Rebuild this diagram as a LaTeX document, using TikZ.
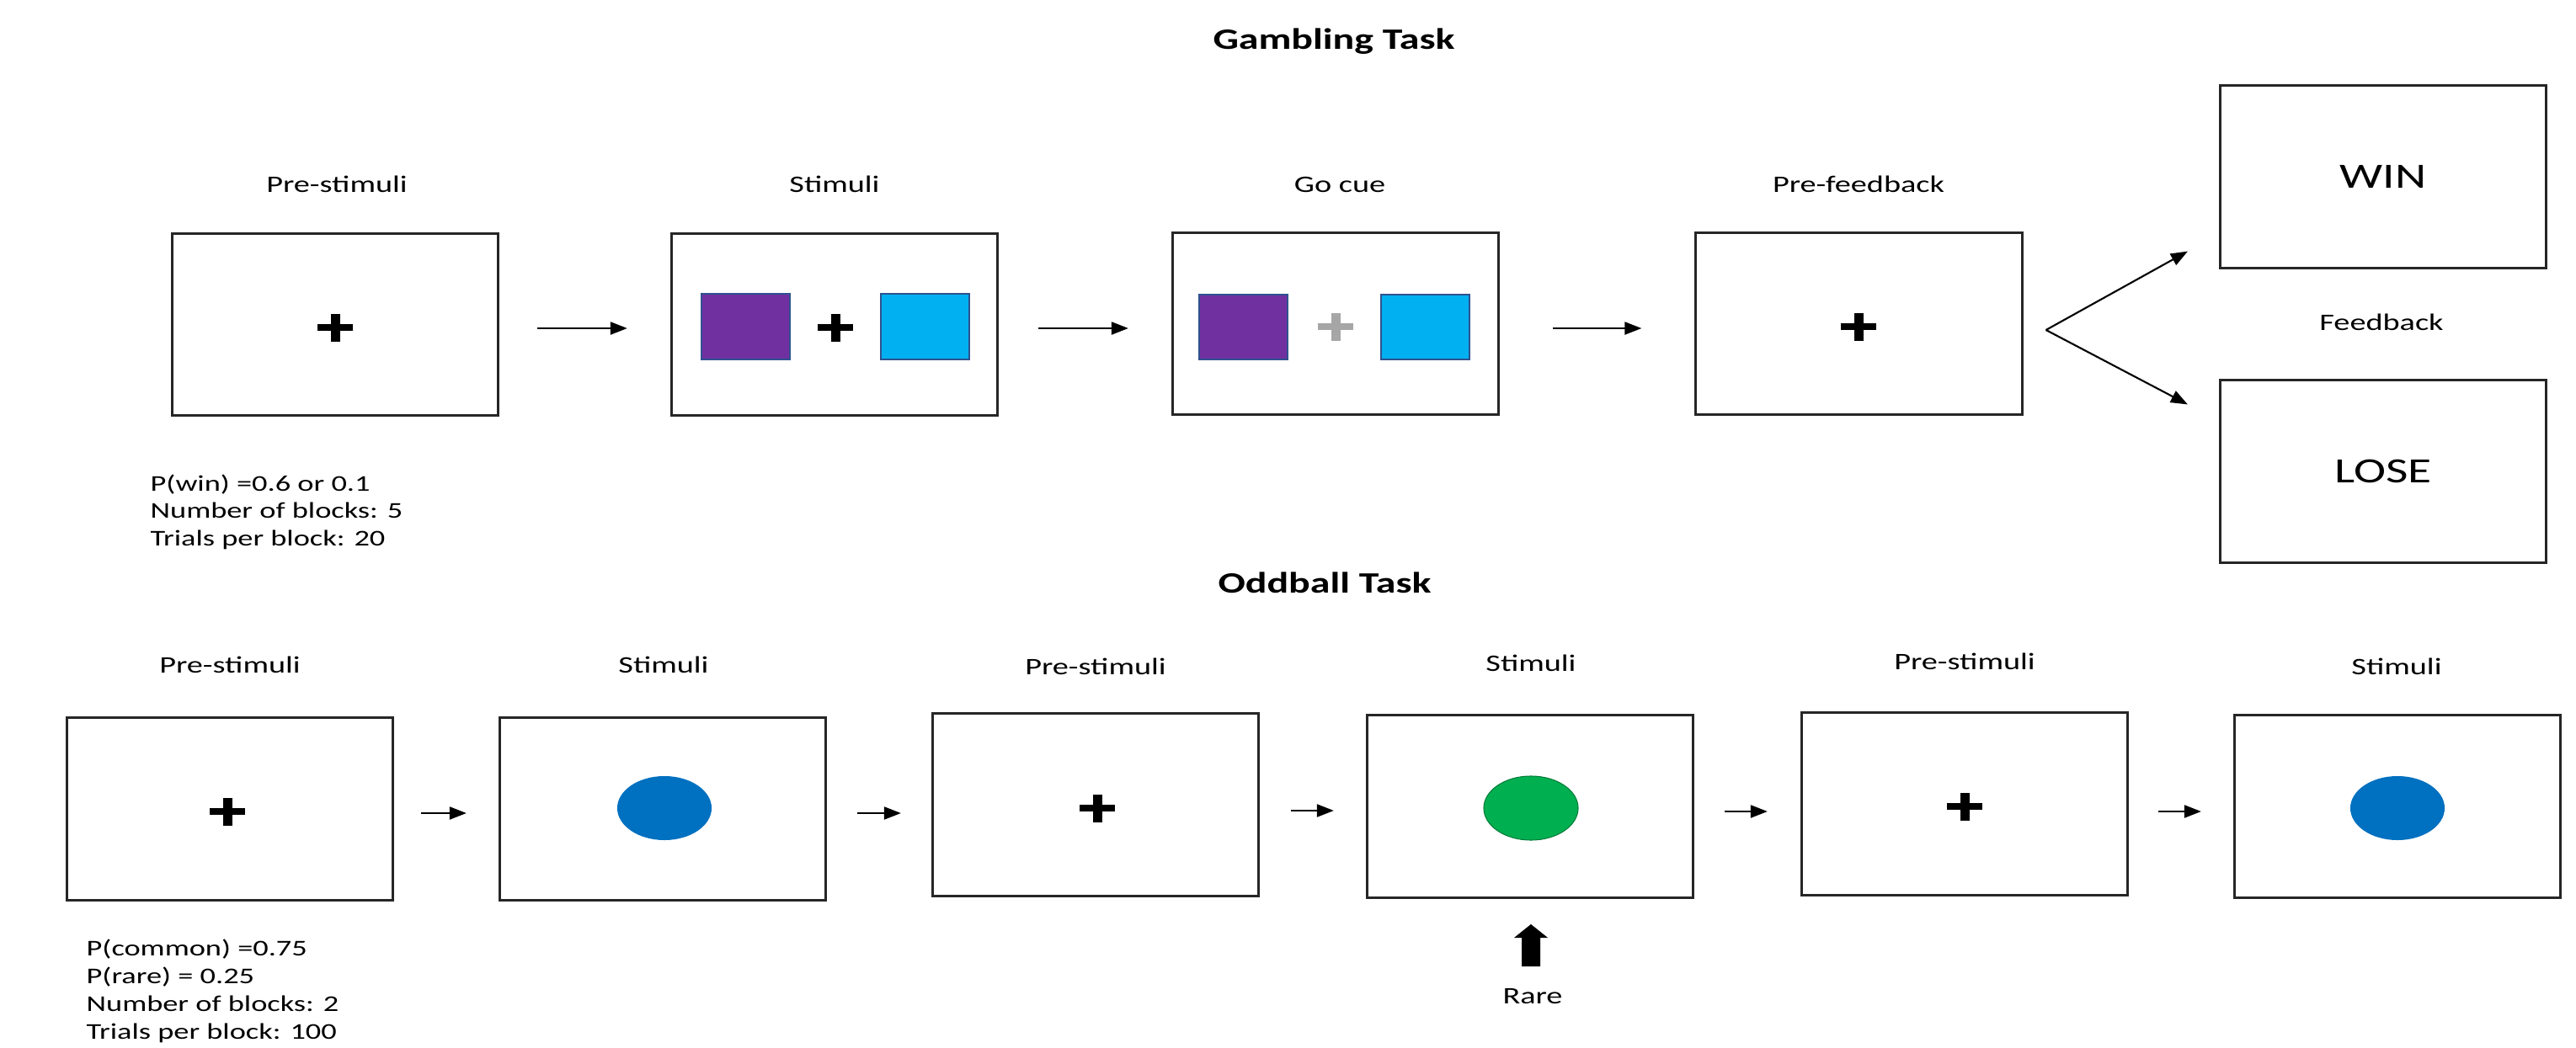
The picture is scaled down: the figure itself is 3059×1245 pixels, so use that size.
\documentclass[tikz,border=0pt]{standalone}
\usepackage{fontspec}
\setmainfont{Carlito}[FakeStretch=1.36]
\usetikzlibrary{arrows.meta}
\definecolor{purp}{HTML}{7030A0}
\definecolor{cyanb}{HTML}{00B0F0}
\definecolor{blueb}{HTML}{0070C0}
\definecolor{greenb}{HTML}{00B050}
\definecolor{edgeb}{HTML}{2F528F}
\definecolor{crossgray}{HTML}{A6A6A6}
\definecolor{framec}{HTML}{262626}
\begin{document}
\begin{tikzpicture}[x=0.01cm,y=-0.01cm,
  screen/.style={draw=framec,line width=0.85pt,minimum width=3.87cm,minimum height=2.16cm,inner sep=0pt},
  arr/.style={draw=black,line width=0.6pt,-{Triangle[length=0.2cm,width=0.15cm]}},
  lbl/.style={font=\fontsize{8}{9.6}\selectfont,inner sep=0pt,anchor=base},
  ttl/.style={font=\fontsize{10}{12}\selectfont\bfseries,inner sep=0pt,anchor=base},
  info/.style={font=\fontsize{7.6}{9.4}\selectfont,inner sep=0pt,anchor=base west},
  big/.style={font=\fontsize{12}{14}\selectfont},
  swatch/.style={draw=edgeb,line width=0.3pt},
  fixplus/.pic={
    \fill[pic actions] (-21,-4) rectangle (21,4);
    \fill[pic actions] (-5.5,-16.5) rectangle (5.5,16.5);
  }
]
\useasboundingbox (0,0) rectangle (3059,1245);

% ---------------- Gambling task ----------------
\node[ttl] (tG) at (1584,58) {Gambling Task};
\node[lbl] (lG1) at (400,228) {Pre-stimuli};
\node[lbl] (lG2) at (991,228) {Stimuli};
\node[lbl] (lG3) at (1591,228) {Go cue};
\node[lbl] (lG4) at (2207,228) {Pre-feedback};

\node[screen] (g1) at (398,385.5) {};
\node[screen] (g2) at (991,385.5) {};
\node[screen] (g3) at (1586,384.5) {};
\node[screen] (g4) at (2207.5,384.5) {};
\node[screen,big] (win) at (2830,210) {WIN};
\node[screen,big] (lose) at (2830,560) {LOSE};
\node[lbl] (fb) at (2828,392) {Feedback};

\pic at (398,389) {fixplus};
\filldraw[swatch,fill=purp] (833,349) rectangle (938,427);
\pic at (992,389) {fixplus};
\filldraw[swatch,fill=cyanb] (1046,349) rectangle (1151,427);
\filldraw[swatch,fill=purp] (1424,350) rectangle (1529,427);
\pic[fill=crossgray] at (1586,388) {fixplus};
\filldraw[swatch,fill=cyanb] (1640,350) rectangle (1745,427);
\pic at (2207,388) {fixplus};

\draw[arr] ([shift={(45,4.5)}]g1.east) coordinate (s1) -- ([xshift=-0.51cm]g2.west |- s1);
\draw[arr] ([shift={(47,4.5)}]g2.east) coordinate (s2) -- ([xshift=-0.51cm]g3.west |- s2);
\draw[arr] ([shift={(63,5.5)}]g3.east) coordinate (s3) -- ([xshift=-0.63cm]g4.west |- s3);
\coordinate (fork) at ([shift={(27,7.5)}]g4.east);
\draw[arr] (fork) -- ([shift={(-37,-21)}]win.south west);
\draw[arr] (fork) -- ([shift={(-37,30)}]lose.north west);

\node[info] (i1) at (178,583) {P(win) =0.6 or 0.1};
\node[info] (i2) at (178,615) {Number of blocks: 5};
\node[info] (i3) at (178,648) {Trials per block: 20};

% ---------------- Oddball task ----------------
\node[ttl] (tO) at (1573,704) {Oddball Task};
\node[lbl] (lO1) at (273,799) {Pre-stimuli};
\node[lbl] (lO2) at (788,799) {Stimuli};
\node[lbl] (lO3) at (1301,801) {Pre-stimuli};
\node[lbl] (lO4) at (1818,797) {Stimuli};
\node[lbl] (lO5) at (2333,795) {Pre-stimuli};
\node[lbl] (lO6) at (2846,801) {Stimuli};

\node[screen] (o1) at (273,961) {};
\node[screen] (o2) at (787,961) {};
\node[screen] (o3) at (1301,956) {};
\node[screen] (o4) at (1817,958) {};
\node[screen] (o5) at (2333,955) {};
\node[screen] (o6) at (2847,958) {};

\pic at (270,964) {fixplus};
\fill[blueb] (789,960) ellipse [x radius=0.56cm,y radius=0.38cm];
\pic at (1303,960) {fixplus};
\filldraw[fill=greenb,draw=greenb!70!black,line width=0.3pt] (1818,960) ellipse [x radius=0.56cm,y radius=0.38cm];
\pic at (2333,958) {fixplus};
\fill[blueb] (2847,960) ellipse [x radius=0.56cm,y radius=0.38cm];

\draw[arr] ([shift={(32,5)}]o1.east) coordinate (t1) -- ([xshift=-0.38cm]o2.west |- t1);
\draw[arr] ([shift={(36,5)}]o2.east) coordinate (t2) -- ([xshift=-0.36cm]o3.west |- t2);
\draw[arr] ([shift={(37,7)}]o3.east) coordinate (t3) -- ([xshift=-0.38cm]o4.west |- t3);
\draw[arr] ([shift={(36,6)}]o4.east) coordinate (t4) -- ([xshift=-0.39cm]o5.west |- t4);
\draw[arr] ([shift={(35,9)}]o5.east) coordinate (t5) -- ([xshift=-0.38cm]o6.west |- t5);

% rare marker
\fill[black] (1818,1098) -- (1838,1114) -- (1829,1114) -- (1829,1148) -- (1807,1148) -- (1807,1114) -- (1798,1114) -- cycle;
\node[lbl] (rare) at (1820,1192) {Rare};

\node[info] (j1) at (102,1135) {P(common) =0.75};
\node[info] (j2) at (102,1168) {P(rare) = 0.25};
\node[info] (j3) at (102,1201) {Number of blocks: 2};
\node[info] (j4) at (102,1234) {Trials per block: 100};
\end{tikzpicture}
\end{document}
